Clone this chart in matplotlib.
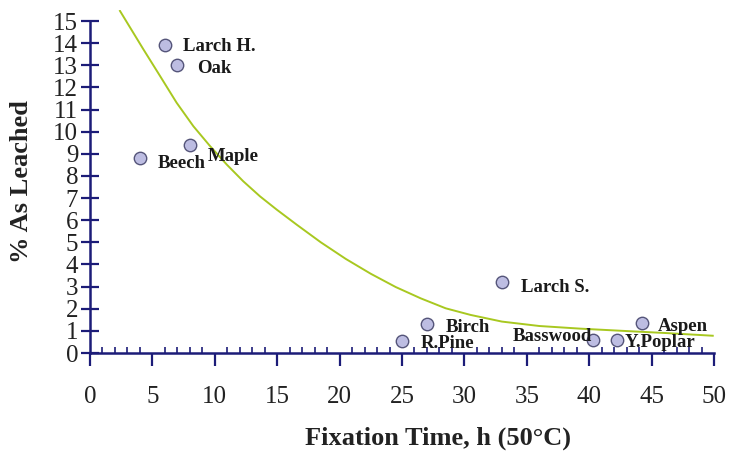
import matplotlib
matplotlib.use('Agg')
import matplotlib.pyplot as plt
from matplotlib.ticker import MultipleLocator

# wood species data points
species = ['Larch H.', 'Oak', 'Maple', 'Beech', 'Birch', 'R.Pine',
           'Larch S.', 'Basswood', 'Y.Poplar', 'Aspen']
fix_time = [6, 7, 8, 4, 27, 25, 33, 40.3, 42.2, 44.2]
as_leached = [13.9, 13.0, 9.4, 8.8, 1.3, 0.55, 3.2, 0.6, 0.6, 1.35]

# trend line
trend_x = [2.4, 4.27, 5.61, 6.94, 8.28, 9.62, 10.95, 12.28, 13.62, 14.96, 16.56, 18.5,
           20.5, 22.5, 24.5, 26.5, 28.5, 30.5, 33.0, 36.0, 39.3, 42.7, 46.2, 49.9]
trend_y = [15.46, 13.73, 12.52, 11.31, 10.25, 9.35, 8.52, 7.76, 7.08, 6.48, 5.8, 5.0,
           4.25, 3.58, 2.98, 2.47, 2.02, 1.72, 1.42, 1.22, 1.1, 1.0, 0.9, 0.78]

# label offsets in pixels (dx, dy)
label_offsets = [(18, -1), (20, -3), (18, -12), (18, -5), (19, -3), (19, -3),
                 (19, -5), (-80, 3), (8, -3), (16, -3)]

navy = '#1c1c78'
plt.rcParams['font.family'] = ['Liberation Serif', 'DejaVu Serif']

fig = plt.figure(figsize=(7.29, 4.55), dpi=100)
ax = fig.add_axes([90 / 729, 1 - 353 / 455, 624 / 729, 343 / 455])

ax.plot(trend_x, trend_y, color='#a8c820', lw=1.4, zorder=2)
ax.scatter(fix_time, as_leached, s=80, facecolor='#bdbde2', edgecolor='#55557a',
           linewidth=1.0, zorder=3)

for name, x, y, off in zip(species, fix_time, as_leached, label_offsets):
    ax.annotate(name, (x, y), xytext=off, textcoords='offset pixels',
                ha='left', va='center', fontsize=13.5, fontweight='bold',
                color='#1a1a1a', zorder=4)

ax.set_xlim(0, 50)
ax.set_ylim(0, 15.5)
ax.spines['top'].set_visible(False)
ax.spines['right'].set_visible(False)
for s in ['left', 'bottom']:
    ax.spines[s].set_color(navy)
    ax.spines[s].set_linewidth(1.8)
ax.spines['left'].set_bounds(0, 15)

ax.xaxis.set_major_locator(MultipleLocator(5))
ax.xaxis.set_minor_locator(MultipleLocator(1))
ax.set_yticks(range(0, 16))

ax.tick_params(axis='x', which='major', direction='out', length=9, width=1.6,
               color=navy, pad=15, labelsize=18, labelcolor='#222222')
ax.tick_params(axis='x', which='minor', direction='in', length=4, width=1.2, color=navy)
ax.tick_params(axis='y', which='major', direction='inout', length=13, width=1.6,
               color=navy, pad=2, labelsize=18, labelcolor='#222222')

fig.text(438 / 729, 1 - 438 / 455, 'Fixation Time, h (50°C)', ha='center', va='center',
         fontsize=19, fontweight='bold', color='#222222')
fig.text(22 / 729, 1 - 182 / 455, '% As Leached', ha='center', va='center',
         rotation=90, fontsize=19, fontweight='bold', color='#222222')

fig.savefig('out.png', dpi=100)
